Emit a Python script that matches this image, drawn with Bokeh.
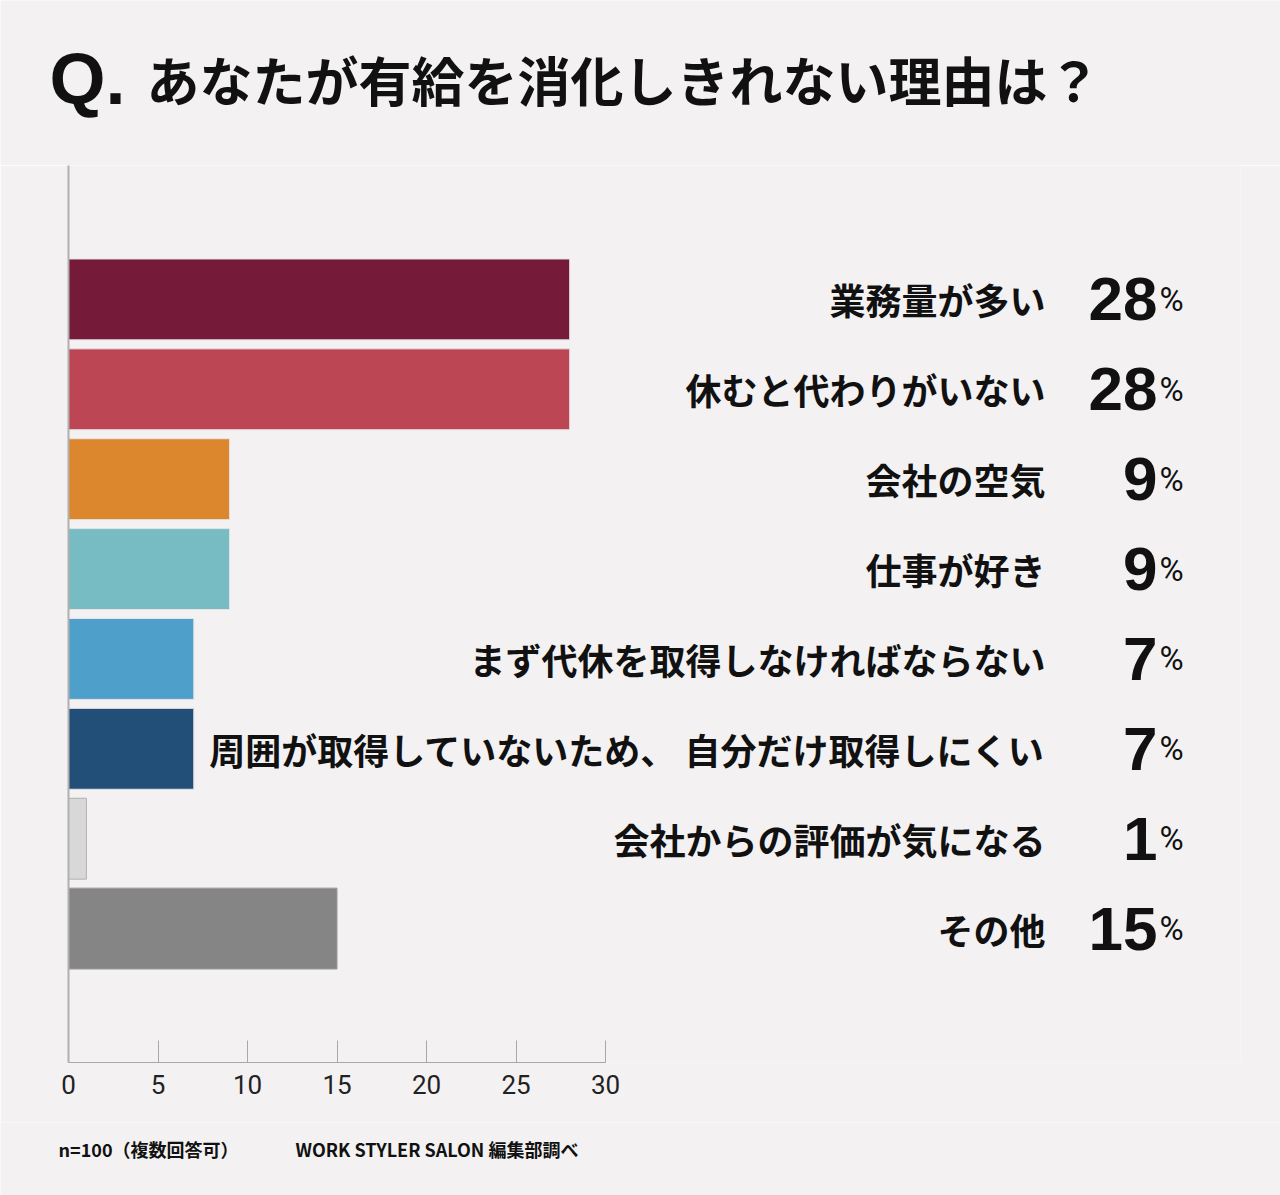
from bokeh.plotting import figure
from bokeh.layouts import column
from bokeh.models import Range1d, ColumnDataSource, FixedTicker
from bokeh.core.properties import value
from bokeh.embed import file_html
from bokeh.resources import INLINE

categories = ["業務量が多い", "休むと代わりがいない", "会社の空気", "仕事が好き",
              "まず代休を取得しなければならない",
              "周囲が取得していないため、 自分だけ取得しにくい",
              "会社からの評価が気になる", "その他"]
values = [28, 28, 9, 9, 7, 7, 1, 15]
colors = ["#751b39", "#bd4654", "#dc872d", "#78bcc3", "#4e9fca", "#224f77", "#d8d8d8", "#858585"]
x_ticks = [0, 5, 10, 15, 20, 25, 30]
title_q = ["Q."]
title_text = ["あなたが有給を消化しきれない理由は？"]
footer_texts = ["n=100（複数回答可）", "WORK STYLER SALON 編集部調べ"]

BG = "#f3f1f2"
W = 1280
TOP_H = 165
FRAME_L, FRAME_R = 68, 1240
FRAME_H = 897
AXIS_H = 60
MAIN_H = FRAME_H + AXIS_H
BOT_Y0 = TOP_H + MAIN_H
BOT_H = 1195 - BOT_Y0
PX = (605 - 68) / 30.0
X_END = (FRAME_R - FRAME_L) / PX
Y_TOP, Y_BOT = -1.49, 8.49


def dx(page_px):
    return (page_px - FRAME_L) / PX


def style(fig):
    fig.background_fill_color = BG
    fig.border_fill_color = BG
    fig.outline_line_color = None
    fig.xgrid.visible = False
    fig.ygrid.visible = False


# ---- title strip ----
top = figure(width=W, height=TOP_H, output_backend="svg", toolbar_location=None,
             x_range=Range1d(0, W), y_range=Range1d(TOP_H, 0),
             x_axis_type=None, y_axis_type=None,
             min_border=0, frame_align=False)
style(top)
top.text(x=[49], y=[78], text=title_q, text_baseline="middle",
         text_font=value("Liberation Sans"), text_font_style="bold",
         text_font_size="72px", text_color="#111111")
top.text(x=[146], y=[78], text=title_text, text_baseline="middle",
         text_font=value("Noto Sans CJK JP"), text_font_style="bold",
         text_font_size="53px", text_color="#111111")

# ---- main chart ----
p = figure(width=W, height=MAIN_H, output_backend="svg", toolbar_location=None,
           x_range=Range1d(0, X_END), y_range=Range1d(Y_BOT, Y_TOP),
           min_border_left=FRAME_L, min_border_right=W - FRAME_R,
           min_border_top=0, min_border_bottom=AXIS_H, frame_align=False)
style(p)

ys = list(range(len(categories)))
line_colors = ["#e6e2e8"] * 6 + ["#b0b0b0", "#9a9a9a"]
src = ColumnDataSource(dict(y=ys, v=values, c=colors, lc=line_colors, cat=categories,
                            num=[str(v) for v in values], pct=["%"] * len(values)))

p.hbar(y="y", left=0, right="v", height=0.9, fill_color="c", line_color="lc",
       line_width=1, source=src)

p.text(x=dx(1045), y="y", text="cat", source=src, text_align="right", text_baseline="middle",
       text_font=value("Noto Sans CJK JP"), text_font_style="bold", text_font_size="36px",
       text_color="#111111")
p.text(x=dx(1157), y="y", text="num", source=src, text_align="right", text_baseline="middle",
       text_font=value("Liberation Sans"), text_font_style="bold", text_font_size="62px",
       text_color="#111111")
p.text(x=dx(1159), y="y", text="pct", source=src, text_align="left", text_baseline="middle",
       text_font=value("Roboto"), text_font_size="33px",
       text_color="#111111")

ax = p.xaxis[0]
ax.ticker = FixedTicker(ticks=x_ticks)
ax.bounds = (0, 30)
ax.axis_line_color = "#a8a8a8"
ax.major_tick_line_color = "#a8a8a8"
ax.major_tick_in = 22
ax.major_tick_out = 0
ax.minor_tick_line_color = None
ax.major_label_standoff = 12
ax.major_label_text_font = "Roboto"
ax.major_label_text_font_style = "normal"
ax.major_label_text_font_size = "26px"
ax.major_label_text_color = "#222222"

yax = p.yaxis[0]
yax.ticker = FixedTicker(ticks=[])
yax.axis_line_color = "#b0b0b0"
yax.axis_line_width = 2
yax.major_tick_line_color = None
yax.minor_tick_line_color = None

# ---- footer strip ----
bot = figure(width=W, height=BOT_H, output_backend="svg", toolbar_location=None,
             x_range=Range1d(0, W), y_range=Range1d(BOT_Y0 + BOT_H, BOT_Y0),
             x_axis_type=None, y_axis_type=None, min_border=0, frame_align=False)
style(bot)
bot.text(x=[58, 295], y=[1148, 1148], text=footer_texts, text_baseline="middle",
         text_font=value("Noto Sans CJK JP"), text_font_style="bold",
         text_font_size="18px", text_color="#111111")

layout = column(top, p, bot, spacing=0)
open("out.html", "w").write(file_html(layout, INLINE))
